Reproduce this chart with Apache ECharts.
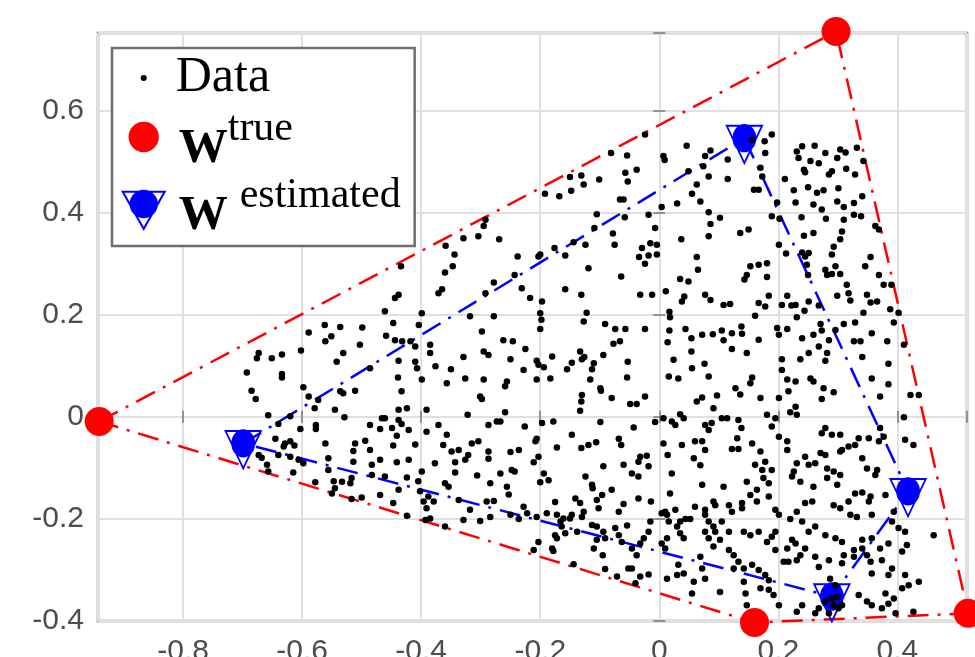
<!DOCTYPE html>
<html>
<head>
<meta charset="utf-8">
<title>W true vs W estimated</title>
<script src="https://cdn.jsdelivr.net/npm/echarts@6/dist/echarts.min.js"></script>
<style>
  html, body { margin: 0; padding: 0; background: #fff; }
  #main { width: 975px; height: 657px; }
</style>
</head>
<body>
<div id="main"></div>
<script>
// axis ranges
var xMin = -0.943, xMax = 0.517;
var yMin = -0.4, yMax = 0.752;
var tickStep = 0.2;

// vertices: true (red) and estimated (blue), in drawing order
var wTrueX = [-0.941, 0.297, 0.519, 0.160];
var wTrueY = [-0.009, 0.755, -0.385, -0.403];
var wEstX = [-0.699, 0.143, 0.418, 0.290];
var wEstY = [-0.052, 0.546, -0.146, -0.352];

// data points, estimated dot by dot from the picture
var dataPoints = [
  [-0.329,0.350],[-0.359,0.335],[-0.344,0.318],[-0.434,0.295],[-0.347,0.295],[-0.360,0.283],[-0.365,0.250],[-0.371,0.242],[-0.438,0.239],[-0.444,0.233],
  [-0.461,0.207],[-0.399,0.203],[-0.318,0.197],[-0.447,0.184],[-0.404,0.180],[-0.562,0.180],[-0.536,0.176],[-0.499,0.175],[-0.589,0.165],[-0.459,0.159],
  [-0.561,0.148],[-0.551,0.158],[-0.444,0.150],[-0.432,0.148],[-0.418,0.148],[-0.410,0.138],[-0.385,0.141],[-0.503,0.141],[-0.531,0.125],[-0.673,0.125],
  [-0.676,0.115],[-0.651,0.115],[-0.634,0.122],[-0.602,0.130],[-0.542,0.108],[-0.438,0.110],[-0.410,0.108],[-0.385,0.125],[-0.329,0.117],[-0.376,0.099],
  [-0.350,0.093],[-0.407,0.095],[-0.486,0.095],[-0.693,0.087],[-0.634,0.084],
  [-0.024,0.553],[-0.081,0.517],[-0.054,0.512],[-0.038,0.484],[0.046,0.531],[0.007,0.511],[0.009,0.503],[0.077,0.511],[0.086,0.522],[0.049,0.481],
  [0.074,0.491],[0.083,0.471],[0.063,0.455],[0.055,0.437],[0.030,0.418],[0.004,0.411],[0.069,0.422],[0.083,0.401],[0.102,0.390],[0.086,0.378],
  [0.083,0.354],[0.037,0.348],[-0.150,0.470],[-0.131,0.473],[-0.101,0.465],[-0.127,0.455],[-0.057,0.478],[-0.053,0.461],[-0.192,0.437],[-0.168,0.432],
  [-0.148,0.443],[-0.066,0.426],[-0.060,0.426],[-0.105,0.397],[-0.058,0.391],[-0.018,0.396],[-0.292,0.386],[-0.295,0.374],[-0.304,0.354],[-0.269,0.348],
  [-0.109,0.370],[-0.078,0.359],[-0.075,0.337],[-0.007,0.370],[-0.015,0.340],[-0.004,0.337],[-0.029,0.331],[-0.034,0.313],[-0.018,0.316],[-0.024,0.300],
  [-0.004,0.318],[-0.144,0.342],[-0.124,0.337],[-0.176,0.331],[-0.200,0.318],[-0.203,0.314],[-0.158,0.316],[-0.238,0.314],[-0.243,0.278],[-0.119,0.291],
  [-0.064,0.275],[-0.278,0.263],[-0.292,0.242],[-0.231,0.252],[-0.217,0.233],[-0.197,0.226],[-0.158,0.250],[-0.131,0.239],[-0.032,0.239],[-0.012,0.239],
  [0.011,0.246],[0.035,0.270],[0.049,0.265],[0.042,0.236],[0.038,0.226],[0.063,0.313],[0.065,0.288],[0.077,0.239],[0.086,0.229],[0.108,0.219],
  [-0.200,0.203],[-0.198,0.190],[-0.200,0.172],[-0.278,0.197],[-0.298,0.167],[-0.122,0.204],[-0.127,0.187],[-0.091,0.182],[-0.074,0.172],[-0.057,0.172],
  [-0.024,0.172],[0.017,0.206],[0.018,0.195],[0.017,0.169],[0.044,0.172],[0.054,0.154],[0.072,0.161],[0.090,0.162],[0.105,0.169],[0.108,0.150],
  [-0.262,0.150],[-0.246,0.148],[-0.225,0.133],[-0.295,0.128],[-0.287,0.121],[-0.250,0.113],[-0.180,0.118],[-0.206,0.110],[-0.203,0.102],[-0.194,0.097],
  [-0.133,0.128],[-0.126,0.117],[-0.130,0.113],[-0.094,0.121],[-0.077,0.143],[-0.066,0.148],[-0.053,0.108],[-0.110,0.105],[-0.113,0.093],[-0.155,0.093],
  [-0.147,0.106],[0.014,0.146],[0.024,0.112],[0.054,0.128],[0.076,0.104],[0.055,0.095],[-0.228,0.092],
  [0.189,0.553],[0.177,0.540],[0.156,0.543],[0.178,0.517],[0.115,0.504],[0.170,0.488],[0.173,0.471],[0.115,0.466],[0.211,0.466],[0.159,0.445],
  [0.167,0.445],[0.198,0.420],[0.189,0.393],[0.202,0.388],[0.240,0.530],[0.231,0.520],[0.261,0.531],[0.279,0.517],[0.234,0.507],[0.254,0.501],
  [0.268,0.497],[0.243,0.484],[0.245,0.479],[0.290,0.481],[0.285,0.475],[0.304,0.524],[0.313,0.518],[0.299,0.507],[0.332,0.527],[0.343,0.501],
  [0.314,0.486],[0.329,0.475],[0.226,0.444],[0.250,0.450],[0.276,0.444],[0.301,0.448],[0.265,0.439],[0.229,0.420],[0.259,0.416],[0.273,0.406],
  [0.299,0.422],[0.310,0.411],[0.327,0.419],[0.341,0.432],[0.327,0.396],[0.339,0.393],[0.239,0.391],[0.280,0.388],[0.310,0.386],[0.363,0.374],
  [0.369,0.367],[0.136,0.360],[0.150,0.367],[0.243,0.355],[0.259,0.360],[0.307,0.363],[0.304,0.348],[0.201,0.337],[0.213,0.320],[0.240,0.322],
  [0.251,0.321],[0.293,0.333],[0.290,0.318],[0.245,0.314],[0.153,0.295],[0.147,0.278],[0.143,0.269],[0.167,0.298],[0.181,0.301],[0.181,0.274],
  [0.248,0.298],[0.250,0.278],[0.279,0.288],[0.282,0.278],[0.296,0.295],[0.290,0.280],[0.304,0.280],[0.315,0.259],[0.346,0.295],[0.355,0.313],
  [0.369,0.278],[0.377,0.259],[0.390,0.259],[0.119,0.221],[0.167,0.223],[0.184,0.237],[0.178,0.216],[0.206,0.219],[0.222,0.218],[0.229,0.219],
  [0.215,0.237],[0.251,0.226],[0.268,0.218],[0.299,0.237],[0.318,0.242],[0.321,0.228],[0.349,0.239],[0.355,0.224],[0.366,0.226],[0.343,0.204],
  [0.388,0.211],[0.402,0.204],[0.244,0.208],[0.231,0.195],[0.161,0.198],[0.138,0.177],[0.122,0.164],[0.139,0.163],[0.167,0.151],[0.122,0.133],
  [0.147,0.125],[0.198,0.174],[0.201,0.161],[0.215,0.172],[0.240,0.154],[0.259,0.161],[0.271,0.182],[0.273,0.169],[0.285,0.150],[0.296,0.170],
  [0.310,0.182],[0.329,0.185],[0.357,0.164],[0.394,0.185],[0.383,0.148],[0.411,0.141],[0.327,0.148],[0.338,0.148],[0.251,0.125],[0.268,0.138],
  [0.237,0.113],[0.206,0.113],[0.282,0.125],[0.279,0.110],[0.341,0.117],[0.385,0.104],[0.206,0.092],
  [-0.634,0.077],[-0.685,0.051],[-0.678,0.035],[-0.598,0.058],[-0.589,0.040],[-0.573,0.033],[-0.536,0.050],[-0.531,0.046],[-0.511,0.051],[-0.579,0.017],
  [-0.545,0.014],[-0.529,-0.001],[-0.657,0.003],[-0.640,-0.014],[-0.620,0.001],[-0.603,-0.024],[-0.577,-0.016],[-0.577,-0.024],[-0.645,-0.043],[-0.629,-0.052],
  [-0.620,-0.048],[-0.613,-0.056],[-0.631,-0.058],[-0.673,-0.075],[-0.668,-0.080],[-0.640,-0.075],[-0.620,-0.078],[-0.606,-0.084],[-0.598,-0.091],[-0.615,-0.109],
  [-0.657,-0.107],[-0.659,-0.094],[-0.561,-0.052],[-0.556,-0.081],[-0.556,-0.104],[-0.578,-0.128],[-0.547,-0.126],[-0.545,-0.140],[-0.550,-0.150],[-0.533,-0.127],
  [-0.519,-0.130],[-0.517,-0.120],[-0.514,-0.088],[-0.511,-0.052],[-0.514,-0.067],[-0.494,-0.047],[-0.486,-0.065],[-0.483,-0.094],[-0.469,-0.084],[-0.517,-0.161],
  [-0.500,-0.158],[-0.469,-0.153],[-0.447,-0.169],[-0.483,-0.114],[-0.461,-0.117],[-0.441,-0.089],[-0.421,-0.084],[-0.424,-0.119],[-0.405,-0.126],[-0.399,-0.107],
  [-0.438,-0.143],[-0.402,-0.146],[-0.396,-0.166],[-0.391,-0.179],[-0.385,-0.199],[-0.424,-0.194],[-0.393,-0.202],[-0.360,-0.215],[-0.388,-0.156],[-0.379,-0.166],
  [-0.360,-0.130],[-0.354,-0.137],[-0.337,-0.163],[-0.329,-0.202],[-0.318,-0.182],[-0.321,-0.075],[-0.326,-0.084],[-0.343,-0.089],[-0.343,-0.109],[-0.337,-0.065],
  [-0.349,-0.068],[-0.363,-0.055],[-0.377,-0.091],[-0.410,-0.054],[-0.447,-0.056],[-0.466,-0.003],[-0.461,-0.003],[-0.486,-0.016],[-0.469,-0.024],[-0.449,-0.022],
  [-0.438,-0.006],[-0.433,-0.014],[-0.421,-0.026],[-0.441,-0.037],[-0.391,-0.029],[-0.371,-0.016],[-0.357,-0.035],[-0.315,-0.052],[-0.322,0.004],[-0.391,0.014],
  [-0.438,0.014],[-0.424,0.017],[-0.433,0.050],[-0.439,0.077],[-0.399,0.073],[-0.357,0.066],[-0.326,0.075],
  [-0.295,0.073],[-0.256,0.069],[-0.259,0.060],[-0.206,0.073],[-0.183,0.075],[-0.301,0.040],[-0.298,0.035],[-0.259,0.009],[-0.287,-0.016],[-0.273,-0.009],
  [-0.267,-0.009],[-0.226,-0.019],[-0.197,-0.012],[-0.178,-0.009],[-0.116,0.073],[-0.099,0.056],[-0.098,0.051],[-0.130,0.043],[-0.131,0.030],[-0.133,0.012],
  [-0.080,0.037],[-0.054,0.077],[-0.049,0.025],[-0.038,0.025],[-0.024,0.040],[-0.099,-0.010],[-0.147,-0.035],[-0.043,-0.021],[-0.007,-0.010],[0.007,-0.003],
  [0.021,-0.009],[0.027,-0.016],[0.035,0.005],[0.041,-0.003],[0.063,0.030],[0.072,0.038],[0.097,0.042],[0.091,0.017],[0.083,0.079],[0.032,0.075],
  [0.016,0.079],[0.077,-0.016],[0.083,-0.026],[0.088,-0.012],[0.105,-0.003],[-0.287,-0.068],[-0.287,-0.082],[-0.304,-0.048],[-0.250,-0.069],[-0.236,-0.065],
  [-0.208,-0.048],[-0.206,-0.043],[-0.211,-0.089],[-0.203,-0.078],[-0.172,-0.060],[-0.131,-0.061],[-0.119,-0.055],[-0.106,-0.050],[-0.068,-0.043],[-0.064,-0.055],
  [-0.032,-0.078],[-0.021,-0.076],[-0.035,-0.088],[-0.018,-0.097],[0.007,-0.052],[0.014,-0.075],[0.038,-0.055],[0.060,-0.048],[0.072,-0.048],[0.077,-0.065],
  [0.058,-0.081],[0.069,-0.095],[-0.094,-0.097],[-0.060,-0.094],[-0.046,-0.111],[-0.035,-0.117],[0.021,-0.111],[-0.306,-0.115],[-0.267,-0.111],[-0.248,-0.104],
  [-0.243,-0.107],[-0.284,-0.130],[-0.256,-0.137],[-0.253,-0.152],[-0.200,-0.128],[-0.194,-0.111],[-0.186,-0.124],[-0.124,-0.117],[-0.113,-0.133],[-0.112,-0.140],
  [-0.080,-0.143],[-0.096,-0.153],[-0.105,-0.163],[-0.102,-0.179],[-0.141,-0.160],[-0.175,-0.167],[-0.133,-0.169],[-0.127,-0.186],[-0.130,-0.196],[-0.068,-0.186],
  [-0.060,-0.171],[-0.035,-0.160],[-0.014,-0.166],[0.018,-0.150],[0.072,-0.133],[0.108,-0.137],[0.091,-0.166],[0.094,-0.173],[0.060,-0.176],[0.077,-0.182],
  [-0.290,-0.166],[-0.278,-0.165],[-0.301,-0.204],[-0.284,-0.196],[-0.250,-0.192],[-0.236,-0.200],[-0.228,-0.176],[-0.222,-0.189],[-0.206,-0.196],[-0.189,-0.189],
  [-0.172,-0.192],[-0.166,-0.205],[-0.161,-0.199],[-0.164,-0.215],[-0.150,-0.199],[-0.147,-0.192],[-0.175,-0.232],[-0.172,-0.238],[-0.158,-0.228],[-0.138,-0.225],
  [-0.113,-0.212],[-0.105,-0.215],[-0.094,-0.225],[-0.091,-0.238],[-0.105,-0.241],[-0.110,-0.258],[-0.095,-0.271],[-0.074,-0.218],[-0.068,-0.232],[-0.063,-0.245],
  [-0.054,-0.213],[-0.046,-0.258],[-0.038,-0.271],[-0.032,-0.248],[-0.026,-0.238],[-0.018,-0.225],[-0.015,-0.205],[0.004,-0.189],[0.010,-0.186],[0.013,-0.192],
  [0.016,-0.205],[0.027,-0.182],[0.035,-0.205],[0.044,-0.200],[0.052,-0.200],[0.030,-0.215],[0.035,-0.228],[0.041,-0.238],[0.004,-0.248],[0.013,-0.238],
  [0.010,-0.258],[0.077,-0.192],[0.083,-0.205],[0.091,-0.215],[0.094,-0.225],[0.077,-0.225],[0.083,-0.238],[0.091,-0.254],[0.069,-0.274],[0.072,-0.297],
  [0.077,-0.317],[0.105,-0.205],[0.102,-0.241],[0.032,-0.290],[0.030,-0.310],[0.041,-0.307],[0.013,-0.317],[0.058,-0.323],[0.055,-0.346],[0.102,-0.343],
  [-0.032,-0.313],[-0.018,-0.309],[-0.052,-0.297],[-0.046,-0.297],[-0.071,-0.313],[-0.091,-0.298],[-0.144,-0.289],[-0.203,-0.245],[-0.211,-0.261],[-0.180,-0.258],
  [-0.178,-0.263],[-0.040,-0.326],
  [0.156,0.077],[0.153,0.066],[0.128,0.056],[0.136,0.044],[0.170,0.037],[0.201,0.037],[0.217,0.050],[0.215,0.073],[0.229,0.069],[0.254,0.075],
  [0.259,0.069],[0.276,0.056],[0.273,0.035],[0.293,0.048],[0.357,0.075],[0.371,0.040],[0.385,0.064],[0.422,0.043],[0.436,0.043],[0.114,-0.003],
  [0.133,-0.006],[0.138,-0.022],[0.131,-0.042],[0.122,-0.063],[0.133,-0.063],[0.156,-0.052],[0.170,-0.068],[0.181,0.004],[0.195,-0.003],[0.189,-0.019],
  [0.201,-0.039],[0.215,-0.048],[0.215,-0.065],[0.220,0.009],[0.231,0.004],[0.229,0.020],[0.279,-0.022],[0.273,-0.032],[0.290,-0.035],[0.304,-0.035],
  [0.329,-0.055],[0.318,-0.058],[0.307,-0.065],[0.279,-0.075],[0.271,-0.071],[0.262,-0.091],[0.245,-0.078],[0.251,-0.094],[0.231,-0.091],[0.226,-0.107],
  [0.237,-0.127],[0.223,-0.117],[0.282,-0.101],[0.293,-0.107],[0.304,-0.114],[0.282,-0.120],[0.299,-0.133],[0.341,-0.081],[0.349,-0.101],[0.366,-0.104],
  [0.363,-0.114],[0.335,-0.042],[0.352,-0.042],[0.369,-0.048],[0.377,-0.039],[0.371,-0.022],[0.413,-0.045],[0.427,-0.055],[0.411,-0.001],[0.304,-0.068],
  [0.161,-0.094],[0.173,-0.104],[0.178,-0.088],[0.189,-0.104],[0.175,-0.120],[0.184,-0.130],[0.164,-0.143],[0.147,-0.127],[0.139,-0.169],[0.117,-0.173],
  [0.122,-0.186],[0.139,-0.179],[0.153,-0.153],[0.164,-0.166],[0.184,-0.156],[0.195,-0.182],[0.201,-0.192],[0.220,-0.200],[0.231,-0.186],[0.245,-0.169],
  [0.257,-0.166],[0.259,-0.137],[0.293,-0.173],[0.304,-0.179],[0.318,-0.166],[0.329,-0.150],[0.341,-0.148],[0.321,-0.192],[0.332,-0.196],[0.355,-0.156],
  [0.380,-0.153],[0.394,-0.186],[0.391,-0.205],[0.357,-0.192],[0.352,-0.166],[0.413,-0.225],[0.416,-0.251],[0.408,-0.264],[0.402,-0.218],[0.385,-0.248],
  [0.461,-0.232],[0.357,-0.238],[0.371,-0.258],[0.341,-0.241],[0.327,-0.261],[0.307,-0.245],[0.296,-0.238],[0.279,-0.232],[0.262,-0.215],[0.251,-0.225],
  [0.240,-0.205],[0.229,-0.248],[0.223,-0.241],[0.215,-0.258],[0.195,-0.225],[0.189,-0.235],[0.181,-0.245],[0.167,-0.225],[0.153,-0.232],[0.142,-0.225],
  [0.117,-0.225],[0.117,-0.261],[0.125,-0.271],[0.133,-0.284],[0.142,-0.297],[0.156,-0.290],[0.167,-0.300],[0.178,-0.310],[0.184,-0.320],[0.170,-0.336],
  [0.184,-0.339],[0.142,-0.323],[0.125,-0.297],[0.145,-0.346],[0.147,-0.369],[0.192,-0.349],[0.201,-0.369],[0.231,-0.382],[0.240,-0.369],[0.195,-0.261],
  [0.209,-0.284],[0.217,-0.284],[0.231,-0.281],[0.237,-0.271],[0.245,-0.258],[0.262,-0.274],[0.268,-0.294],[0.285,-0.281],[0.307,-0.287],[0.287,-0.317],
  [0.296,-0.330],[0.310,-0.271],[0.327,-0.274],[0.341,-0.258],[0.349,-0.271],[0.335,-0.349],[0.349,-0.362],[0.357,-0.369],[0.380,-0.346],[0.374,-0.375],
  [0.394,-0.356],[0.385,-0.366],[0.397,-0.385],[0.408,-0.336],[0.385,-0.310],[0.391,-0.297],[0.413,-0.310],[0.419,-0.330],[0.427,-0.382],[0.436,-0.323],
  [0.357,-0.307],[0.374,-0.281],[0.355,-0.284],[0.279,-0.362],[0.290,-0.356],[0.299,-0.353],[0.293,-0.369],[0.301,-0.375],[0.268,-0.375],[0.262,-0.385],
  [0.285,-0.385],[0.307,-0.369]
];

// marker shapes: hollow down-triangle with a filled dot, centred on the dot
var estSymbol = 'path://M50,-17L50,-17M5,10L95,10L50,90ZM11.8,14L50,81.8L88.2,14ZM22,36.5A28,28,0,1,1,78,36.5A28,28,0,1,1,22,36.5Z';
var trueIcon = 'path://M50,-3.5L50,-3.5M50,103.5L50,103.5M20,50A30,30,0,1,1,80,50A30,30,0,1,1,20,50Z';
var dotIcon = 'path://M50,-3.5L50,-3.5M50,103.5L50,103.5M44,50A6,6,0,1,1,56,50A6,6,0,1,1,44,50Z';

function closedPath(xs, ys) {
  var out = [];
  for (var i = 0; i <= xs.length; i++) {
    var k = i % xs.length;
    out.push([xs[k], ys[k]]);
  }
  return out;
}
function pairs(xs, ys) {
  return xs.map(function (x, i) { return [x, ys[i]]; });
}
function tickLabel(v) {
  var q = v / tickStep;
  if (Math.abs(q - Math.round(q)) > 1e-6) return '';
  return String(+(Math.round(q) * tickStep).toFixed(1));
}

var axisColor = '#777777';
var labelStyle = { color: '#4d4d4d', fontFamily: 'Liberation Sans', fontSize: 30 };
var serif = 'Liberation Serif';
var dashDot = [21, 9, 3, 9];

var chart = echarts.init(document.getElementById('main'));
chart.setOption({
  animation: false,
  backgroundColor: '#ffffff',
  grid: {
    left: 98, right: 8, top: 33, bottom: 36,
    show: true, borderColor: axisColor, borderWidth: 2.5,
    containLabel: false, outerBoundsMode: 'none'
  },
  legend: {
    orient: 'vertical',
    left: 112, top: 48,
    padding: [1, 14, 5, 9],
    itemWidth: 54, itemHeight: 54,
    itemGap: 0, itemTextGap: 9,
    symbolKeepAspect: true,
    selectedMode: false,
    backgroundColor: '#ffffff',
    borderColor: '#6e6e6e', borderWidth: 2.5,
    z: 10,
    data: [
      { name: 'Data', icon: dotIcon },
      { name: 'W true', icon: trueIcon },
      { name: 'W estimated', icon: estSymbol }
    ],
    formatter: function (name) {
      if (name === 'Data') return name;
      var sup = name.split(' ')[1];
      return '{w|W}{' + (sup === 'true' ? 's1' : 's2') + '|' + sup + '}';
    },
    textStyle: {
      fontFamily: serif, fontSize: 50, lineHeight: 58, color: '#000',
      rich: {
        w: { fontFamily: serif, fontWeight: 'bold', fontSize: 49, lineHeight: 60,
             padding: [18, 0, 0, 3], verticalAlign: 'top', color: '#000' },
        s1: { fontFamily: serif, fontSize: 42, lineHeight: 60,
              padding: [1, 0, 0, 0], verticalAlign: 'top', color: '#000' },
        s2: { fontFamily: serif, fontSize: 42, lineHeight: 60,
              padding: [1, 0, 0, 12], verticalAlign: 'top', color: '#000' }
      }
    }
  },
  xAxis: [{
    type: 'value', position: 'bottom', min: xMin, max: xMax,
    minInterval: tickStep, maxInterval: tickStep,
    axisLine: { show: false },
    axisTick: { inside: true, length: 6, lineStyle: { color: axisColor, width: 1.5 } },
    axisLabel: Object.assign({ margin: 16, formatter: tickLabel }, labelStyle),
    splitLine: { show: true, lineStyle: { color: '#e0e0e0', width: 2 } }
  }, {
    type: 'value', position: 'top', min: xMin, max: xMax,
    minInterval: tickStep, maxInterval: tickStep,
    axisLine: { show: false },
    axisTick: { inside: true, length: 6, lineStyle: { color: axisColor, width: 1.5 } },
    axisLabel: { show: false }, splitLine: { show: false }
  }],
  yAxis: [{
    type: 'value', position: 'left', min: yMin, max: yMax,
    minInterval: tickStep, maxInterval: tickStep,
    axisLine: { show: false },
    axisTick: { inside: true, length: 6, lineStyle: { color: axisColor, width: 1.5 } },
    axisLabel: Object.assign({ margin: 14, formatter: tickLabel }, labelStyle),
    splitLine: { show: true, lineStyle: { color: '#e0e0e0', width: 2 } }
  }, {
    type: 'value', position: 'right', min: yMin, max: yMax,
    minInterval: tickStep, maxInterval: tickStep,
    axisLine: { show: false },
    axisTick: { inside: true, length: 6, lineStyle: { color: axisColor, width: 1.5 } },
    axisLabel: { show: false }, splitLine: { show: false }
  }],
  series: [
    {
      name: 'true hull', type: 'line', data: closedPath(wTrueX, wTrueY),
      showSymbol: false, silent: true, clip: false, z: 2,
      lineStyle: { color: '#ff0000', width: 2.5, type: dashDot }
    },
    {
      name: 'estimated hull', type: 'line', data: closedPath(wEstX, wEstY),
      showSymbol: false, silent: true, clip: false, z: 2,
      lineStyle: { color: '#0000ff', width: 2.5, type: dashDot }
    },
    {
      name: 'W true', type: 'scatter', data: pairs(wTrueX, wTrueY),
      symbol: 'circle', symbolSize: 29, clip: false, z: 3,
      itemStyle: { color: '#ff0000', opacity: 1 }
    },
    {
      name: 'W estimated', type: 'scatter', data: pairs(wEstX, wEstY),
      symbol: estSymbol, symbolSize: [45.5, 54], symbolKeepAspect: true, clip: false, z: 3,
      itemStyle: { color: '#0000ff', opacity: 1 }
    },
    {
      name: 'Data', type: 'scatter', data: dataPoints,
      symbol: 'circle', symbolSize: 6.5, z: 4,
      itemStyle: { color: '#000000', opacity: 1 }
    }
  ]
});
</script>
</body>
</html>
